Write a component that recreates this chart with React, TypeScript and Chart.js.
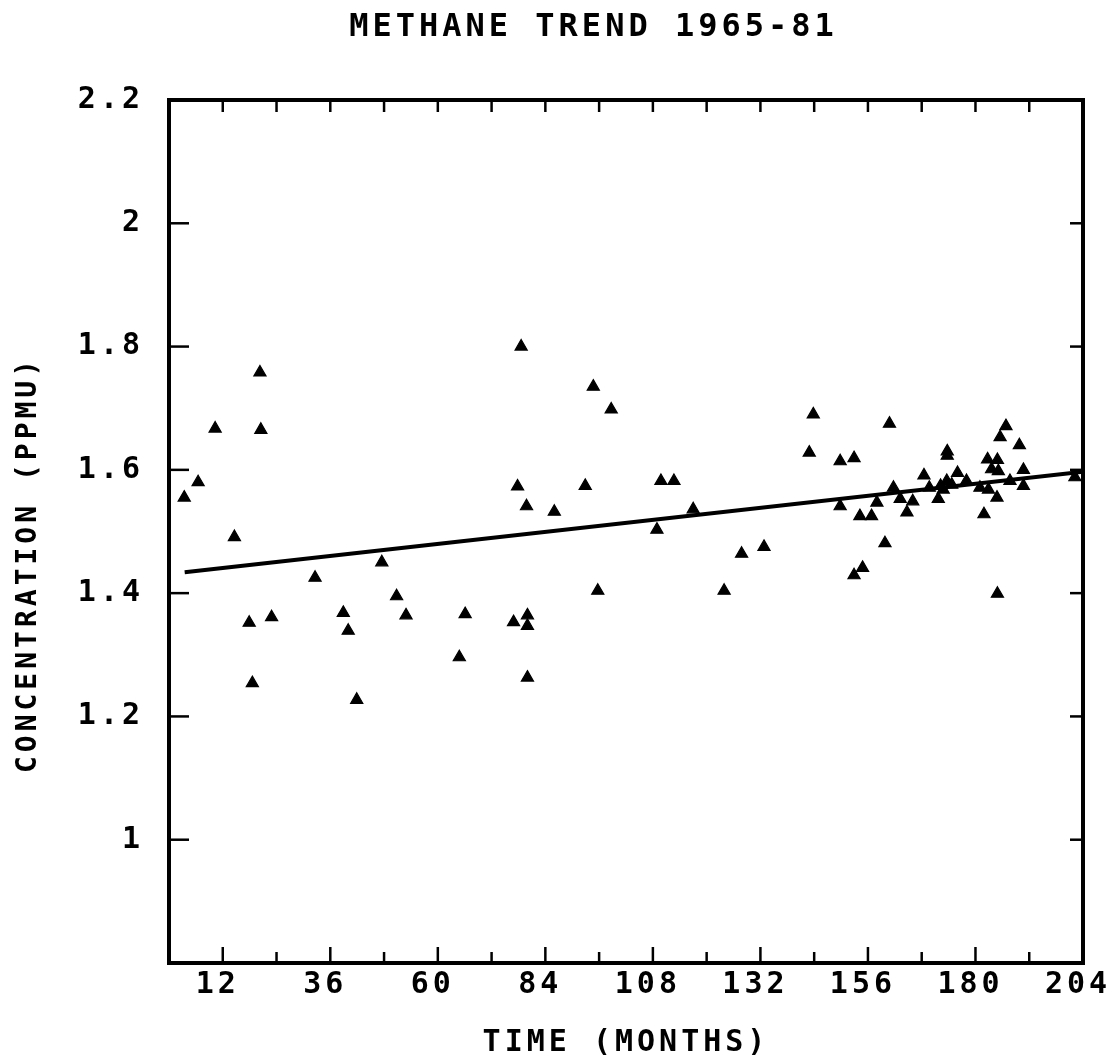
import React, { useEffect, useRef } from 'react';
import { Chart, registerables } from 'chart.js';

Chart.register(...registerables);

// ---- data ----
const monthValues = [
  3.4, 6.5, 10.3, 14.6, 17.9, 18.6, 20.3, 20.5, 22.9, 32.6,
  38.9, 40.0, 41.9, 47.5, 50.8, 52.9, 64.8, 66.1, 76.9, 77.8,
  78.6, 79.8, 80.0, 80.0, 80.0, 86.0, 92.9, 94.7, 95.7, 98.7,
  108.9, 109.8, 112.7, 117.0, 123.9, 127.8, 132.8, 142.9, 143.8, 149.8,
  149.8, 152.9, 152.9, 154.2, 154.8, 156.8, 158.0, 159.8, 160.8, 161.7,
  163.2, 164.7, 166.0, 168.5, 169.7, 171.7, 172.2, 172.8, 173.6, 173.7,
  173.7, 174.7, 176.0, 178.0, 181.0, 181.9, 182.7, 182.9, 183.6, 184.8,
  184.9, 184.9, 185.1, 185.5, 186.8, 187.7, 189.8, 190.7, 190.7, 202.2,
];
const concValues = [
  1.555, 1.58, 1.667, 1.491, 1.352, 1.254, 1.758, 1.665, 1.361, 1.425,
  1.368, 1.339, 1.227, 1.45, 1.395, 1.364, 1.296, 1.366, 1.353, 1.573,
  1.8, 1.541, 1.364, 1.347, 1.263, 1.532, 1.574, 1.735, 1.404, 1.698,
  1.503, 1.582, 1.582, 1.536, 1.404, 1.464, 1.475, 1.628, 1.69, 1.614,
  1.541, 1.619, 1.429, 1.525, 1.441, 1.525, 1.547, 1.481, 1.675, 1.571,
  1.553, 1.531, 1.549, 1.591, 1.571, 1.553, 1.574, 1.568, 1.582, 1.63,
  1.623, 1.576, 1.595, 1.582, 1.571, 1.528, 1.617, 1.568, 1.601, 1.555,
  1.616, 1.399, 1.598, 1.653, 1.671, 1.582, 1.64, 1.6, 1.574, 1.588,
];
const trendMonths = [3.5, 204];
const trendValues = [1.434, 1.597];

const xMin = 0;
const xMax = 204;
const xStep = 12;
const xLabelledTicks = [12, 36, 60, 84, 108, 132, 156, 180, 204];
const yMin = 0.8;
const yMax = 2.2;
const yStep = 0.2;
const yLabelledTicks = [1, 1.2, 1.4, 1.6, 1.8, 2, 2.2];
const yMarkTicks = [1, 1.2, 1.4, 1.6, 1.8, 2];

const titleText = 'METHANE TREND 1965-81';
const xTitleText = 'TIME (MONTHS)';
const yTitleText = 'CONCENTRATION (PPMU)';

const FONT = '"DejaVu Sans Mono", "Liberation Mono", monospace';
const SPACING = '4px';

const plotterPlugin = {
  id: 'plotter',
  beforeUpdate(chart: any) {
    chart.ctx.letterSpacing = SPACING;
  },
  afterLayout(chart: any) {
    const t = chart.titleBlock;
    if (t) {
      t.left = 104;
      t.right = chart.chartArea.right;
    }
    const ys = chart.scales.y;
    if (ys && !ys.__shifted) {
      const orig = ys.drawTitle.bind(ys);
      ys.drawTitle = function () {
        const c = this.ctx;
        c.save();
        c.translate(4, 33);
        orig();
        c.restore();
      };
      ys.__shifted = true;
    }
  },
  beforeDraw(chart: any) {
    chart.ctx.letterSpacing = SPACING;
  },
  afterDraw(chart: any) {
    const { ctx, chartArea: a, scales } = chart;
    const seg = (x1: number, y1: number, x2: number, y2: number) => {
      ctx.beginPath();
      ctx.moveTo(x1, y1);
      ctx.lineTo(x2, y2);
      ctx.stroke();
    };
    ctx.save();
    ctx.strokeStyle = '#000';
    ctx.lineWidth = 2.5;
    for (let v = xMin + xStep; v < xMax; v += xStep) {
      const px = scales.x.getPixelForValue(v);
      const major = xLabelledTicks.includes(v);
      seg(px, a.bottom, px, a.bottom - (major ? 16 : 11));
      seg(px, a.top, px, a.top + 12);
    }
    for (const v of yMarkTicks) {
      const py = scales.y.getPixelForValue(v);
      seg(a.left, py, a.left + 20, py);
      seg(a.right, py, a.right - 13, py);
    }
    ctx.lineWidth = 4;
    ctx.strokeRect(a.left, a.top, a.right - a.left, a.bottom - a.top);
    ctx.restore();
  },
};

export default function App() {
  const canvasRef = useRef<HTMLCanvasElement | null>(null);

  useEffect(() => {
    const canvas = canvasRef.current;
    if (!canvas) return;
    const points = monthValues.map((m, i) => ({ x: m, y: concValues[i] }));
    const trend = trendMonths.map((m, i) => ({ x: m, y: trendValues[i] }));

    const chart = new Chart(canvas, {
      type: 'scatter',
      data: {
        datasets: [
          {
            label: 'Methane',
            data: points,
            pointStyle: 'triangle',
            pointRadius: 7,
            pointBackgroundColor: '#000',
            pointBorderColor: '#000',
            pointBorderWidth: 1.2,
            showLine: false,
          },
          {
            label: 'Trend',
            data: trend,
            showLine: true,
            borderColor: '#000',
            borderWidth: 4,
            pointRadius: 0,
            fill: false,
          },
        ],
      },
      options: {
        responsive: false,
        animation: false,
        color: '#000',
        layout: { padding: { left: 0, right: 34, top: 0, bottom: 0 } },
        plugins: {
          legend: { display: false },
          tooltip: { enabled: false },
          title: {
            display: true,
            text: titleText,
            color: '#000',
            font: { family: FONT, size: 32, weight: 'bold' },
            padding: { top: 8, bottom: 53.6 },
          },
        },
        scales: {
          x: {
            type: 'linear',
            min: xMin,
            max: xMax,
            grid: { display: false, drawTicks: false },
            border: { display: false },
            ticks: {
              stepSize: xStep,
              autoSkip: false,
              maxRotation: 0,
              padding: 4,
              labelOffset: -5,
              color: '#000',
              font: { family: FONT, size: 30, weight: 'bold' },
              callback: (v: any) => (xLabelledTicks.includes(Number(v)) ? String(v) : ''),
            },
            title: {
              display: true,
              text: xTitleText,
              color: '#000',
              font: { family: FONT, size: 30, weight: 'bold' },
              padding: { top: 0, bottom: 0 },
            },
            afterFit: (s: any) => {
              s.height = 98;
              s.paddingLeft = 0;
              s.paddingRight = 0;
            },
          },
          y: {
            type: 'linear',
            min: yMin,
            max: yMax,
            grid: { display: false, drawTicks: false },
            border: { display: false },
            ticks: {
              stepSize: yStep,
              autoSkip: false,
              padding: 25,
              color: '#000',
              font: { family: FONT, size: 30, weight: 'bold' },
              callback: (v: any) => {
                const r = Math.round(Number(v) * 10) / 10;
                return yLabelledTicks.includes(r) ? String(r) : '';
              },
            },
            title: {
              display: true,
              text: yTitleText,
              color: '#000',
              font: { family: FONT, size: 28, weight: 'bold' },
              padding: { top: 8, bottom: 0 },
            },
            afterFit: (s: any) => {
              s.width = 169;
              s.paddingTop = 0;
              s.paddingBottom = 0;
            },
          },
        },
      },
      plugins: [plotterPlugin],
    });

    return () => chart.destroy();
  }, []);

  return (
    <div style={{ position: 'fixed', left: 0, top: 0, width: 1117, height: 1061, background: '#fff' }}>
      <canvas ref={canvasRef} width={1117} height={1061} style={{ display: 'block', width: 1117, height: 1061 }} />
    </div>
  );
}
